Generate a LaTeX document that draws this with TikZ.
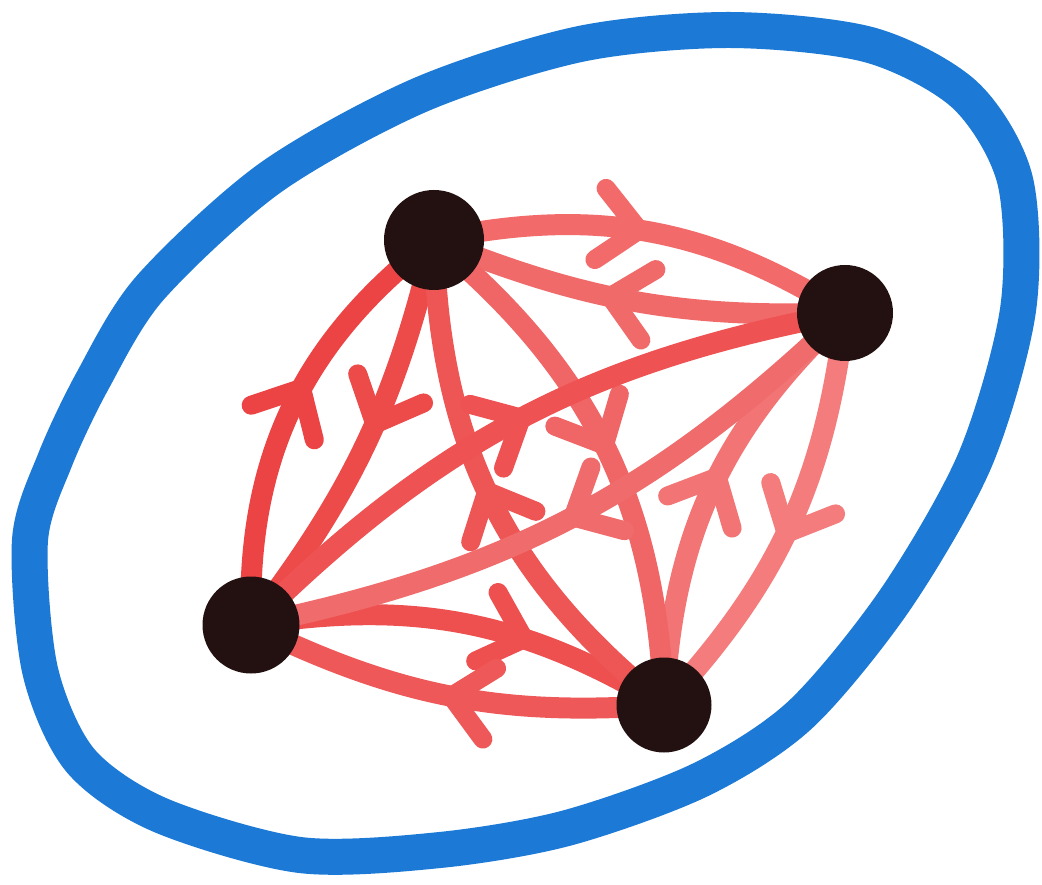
\documentclass[tikz,border=0pt]{standalone}
\usetikzlibrary{decorations.markings,backgrounds}
\definecolor{ringblue}{HTML}{1C7AD6}
\definecolor{dotcol}{HTML}{231111}
\definecolor{eA}{HTML}{F26A6A}
\definecolor{eB}{HTML}{F06A6A}
\definecolor{eC}{HTML}{EC4444}
\definecolor{eD}{HTML}{ED4A4A}
\definecolor{eE}{HTML}{EE5050}
\definecolor{eF}{HTML}{EF5858}
\definecolor{eG}{HTML}{F27474}
\definecolor{eH}{HTML}{F47C7C}
\definecolor{eI}{HTML}{F06666}
\definecolor{eJ}{HTML}{EE5555}
\definecolor{eK}{HTML}{EE5252}
\definecolor{eL}{HTML}{F06C6C}
\begin{document}
\begin{tikzpicture}[x=1pt,y=-1pt,
  vtx/.style={circle,fill=dotcol,inner sep=0pt,minimum size=#1},
  ed/.style n args={3}{draw=#1,line width=21pt,bend left=#2,postaction={decorate},
    decoration={markings,mark=at position #3 with {\draw[#1,line width=19pt,line cap=round,line join=round] (-39pt,36pt) -- (0pt,0pt) -- (-39pt,-36pt);}}}
]
\useasboundingbox (0,0) rectangle (1042,885);
\node[vtx=100pt] (A) at (434,240) {};
\node[vtx=96pt] (B) at (845,313) {};
\node[vtx=97pt] (C) at (251,625) {};
\node[vtx=95pt] (D) at (664,705) {};
\begin{pgfonlayer}{background}
\fill[white] (0,0) rectangle (1042,885);
\draw[ringblue,line width=36pt] plot[smooth cycle] coordinates {
 (30,540) (40,670) (80,760) (160,815) (300,855) (440,850) (567,828) (700,780)
 (800,715) (895,600) (975,460) (1018,310) (1015,180) (965,95) (870,45) (730,30)
 (580,44) (420,95) (270,178) (150,288) (93,380) (55,460)};
\draw[ed={eA}{22}{0.48}] (A.center) to (B.center);
\draw[ed={eB}{12}{0.56}] (B.center) to (A.center);
\draw[ed={eC}{27}{0.55}] (C.center) to (A.center);
\draw[ed={eD}{12}{0.45}] (A.center) to (C.center);
\draw[ed={eE}{20}{0.64}] (C.center) to (D.center);
\draw[ed={eF}{15}{0.5}] (D.center) to (C.center);
\draw[ed={eG}{22}{0.53}] (D.center) to (B.center);
\draw[ed={eH}{18}{0.52}] (B.center) to (D.center);
\draw[ed={eI}{24}{0.5}] (A.center) to (D.center);
\draw[ed={eJ}{25}{0.52}] (D.center) to (A.center);
\draw[ed={eK}{17}{0.5}] (C.center) to (B.center);
\draw[ed={eL}{16}{0.5}] (B.center) to (C.center);
\end{pgfonlayer}
\end{tikzpicture}
\end{document}
